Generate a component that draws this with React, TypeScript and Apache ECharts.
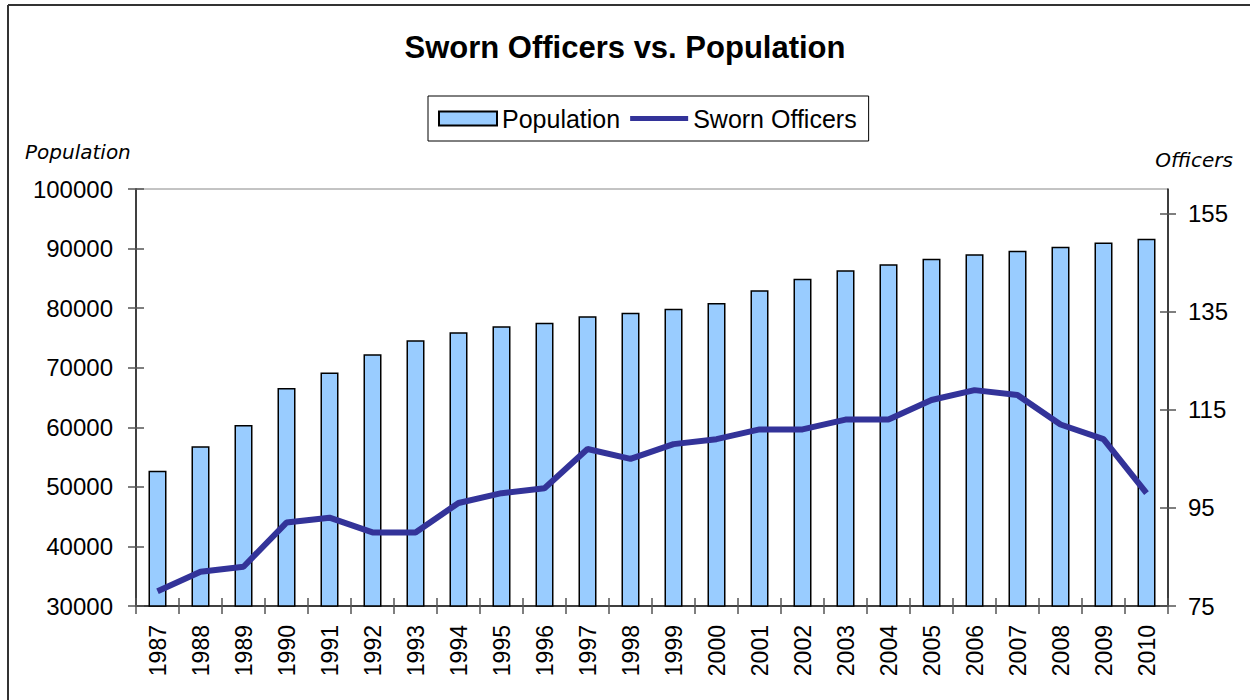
import React, { useEffect, useRef } from 'react';
import * as echarts from 'echarts';

const years = ['1987', '1988', '1989', '1990', '1991', '1992', '1993', '1994', '1995', '1996', '1997', '1998',
  '1999', '2000', '2001', '2002', '2003', '2004', '2005', '2006', '2007', '2008', '2009', '2010'];
const population = [52700, 56800, 60400, 66600, 69200, 72250, 74600, 75950, 76950, 77560, 78630, 79240,
  79900, 80870, 83000, 84950, 86350, 87360, 88300, 89040, 89640, 90300, 91000, 91660];
const swornOfficers = [78, 82, 83, 92, 93, 90, 90, 96, 98, 99, 107, 105,
  108, 109, 111, 111, 113, 113, 117, 119, 118, 112, 109, 98];
const populationMin = 30000;
const populationMax = 100000;
const populationStep = 10000;
const officerTicks = [75, 95, 115, 135, 155];
const officerMin = 75;
const officerMax = 160;

export default function App() {
  const ref = useRef<HTMLDivElement>(null);
  useEffect(() => {
    const chart = echarts.init(ref.current!, null, { renderer: 'svg' });
    const font = '"Liberation Sans", Arial, sans-serif';
    const tickColor = '#555';
    const tickStyle = { color: tickColor, width: 1.5 };
    const plain = (v: number) => String(v);
    chart.setOption({
      animation: false,
      backgroundColor: '#fff',
      title: {
        text: 'Sworn Officers vs. Population',
        left: 'center',
        top: 32,
        padding: 0,
        textStyle: { fontFamily: font, fontSize: 31, fontWeight: 'bold', color: '#000' },
      },
      legend: {
        left: 428,
        top: 96,
        padding: [10, 12, 10, 10],
        itemGap: 10,
        itemWidth: 58,
        itemHeight: 14,
        borderColor: '#000',
        borderWidth: 1,
        textStyle: { fontFamily: font, fontSize: 25, color: '#000' },
        data: [
          { name: 'Population', icon: 'rect' },
          {
            name: 'Sworn Officers',
            icon: 'path://M0,0 L0.01,0 M0,4.5 L60,4.5 L60,9.5 L0,9.5 Z M0,14 L0.01,14',
            itemStyle: { color: '#333399', borderWidth: 0 },
          },
        ],
      },
      grid: {
        left: 136, right: 82, top: 189, bottom: 94,
        show: true, borderColor: '#888', borderWidth: 1, backgroundColor: 'transparent',
        containLabel: false, outerBoundsMode: 'none',
      },
      xAxis: [
        {
          type: 'category', data: years, position: 'bottom', boundaryGap: true,
          axisLine: { onZero: false, lineStyle: { color: '#404040', width: 2 } },
          axisTick: { show: true, length: 8, inside: false, alignWithLabel: false, interval: 0, lineStyle: tickStyle },
          axisLabel: { rotate: 90, interval: 0, margin: 19, fontSize: 23, fontFamily: font, color: '#000' },
          splitLine: { show: false },
        },
        {
          type: 'category', data: years, position: 'bottom', boundaryGap: true,
          axisLine: { show: false, onZero: false },
          axisTick: { show: true, length: 8, inside: true, interval: 0, lineStyle: tickStyle },
          axisLabel: { show: false },
          splitLine: { show: false },
        },
      ],
      yAxis: [
        {
          type: 'value', position: 'left', min: populationMin, max: populationMax, interval: populationStep,
          axisLine: { show: true, onZero: false, lineStyle: { color: '#404040', width: 2 } },
          axisTick: { show: true, length: 8, lineStyle: tickStyle },
          axisLabel: { margin: 23, fontSize: 24, fontFamily: font, color: '#000', formatter: plain },
          splitLine: { show: false },
        },
        {
          type: 'value', position: 'right', min: officerMin, max: officerMax,
          axisLine: { show: true, onZero: false, lineStyle: { color: '#111', width: 1.5 } },
          axisTick: { show: true, length: 8, customValues: officerTicks, lineStyle: tickStyle },
          axisLabel: { margin: 20, fontSize: 24, fontFamily: font, color: '#000', customValues: officerTicks, formatter: plain },
          splitLine: { show: false },
        },
        {
          type: 'value', position: 'left', min: populationMin, max: populationMax, interval: populationStep,
          axisLine: { show: false, onZero: false },
          axisTick: { show: true, inside: true, length: 8, lineStyle: tickStyle },
          axisLabel: { show: false },
          splitLine: { show: false },
        },
        {
          type: 'value', position: 'right', min: officerMin, max: officerMax,
          axisLine: { show: false, onZero: false },
          axisTick: { show: true, inside: true, length: 8, customValues: officerTicks, lineStyle: tickStyle },
          axisLabel: { show: false, customValues: officerTicks },
          splitLine: { show: false },
        },
      ],
      series: [
        {
          name: 'Population', type: 'bar', data: population, xAxisIndex: 0, yAxisIndex: 0, barWidth: 18,
          itemStyle: { color: '#99CCFF', borderColor: '#000', borderWidth: 1.5 },
        },
        {
          name: 'Sworn Officers', type: 'line', data: swornOfficers, xAxisIndex: 0, yAxisIndex: 1,
          symbol: 'none', lineStyle: { color: '#333399', width: 6 }, itemStyle: { color: '#333399' },
        },
      ],
      graphic: [
        { type: 'line', shape: { x1: 8, y1: 5, x2: 1250, y2: 5 }, style: { stroke: '#333', lineWidth: 2 } },
        { type: 'line', shape: { x1: 8, y1: 5, x2: 8, y2: 700 }, style: { stroke: '#333', lineWidth: 2 } },
        {
          type: 'text', x: 25, y: 152,
          style: { text: 'Population', font: 'italic 20px "DejaVu Sans"', fill: '#000', align: 'left', verticalAlign: 'middle' },
        },
        {
          type: 'text', x: 1233, y: 160,
          style: { text: 'Officers', font: 'italic 20px "DejaVu Sans"', fill: '#000', align: 'right', verticalAlign: 'middle' },
        },
      ],
    });
    return () => chart.dispose();
  }, []);
  return (
    <div
      ref={ref}
      style={{ position: 'fixed', left: 0, top: 0, width: 1250, height: 700, background: '#fff' }}
    />
  );
}
